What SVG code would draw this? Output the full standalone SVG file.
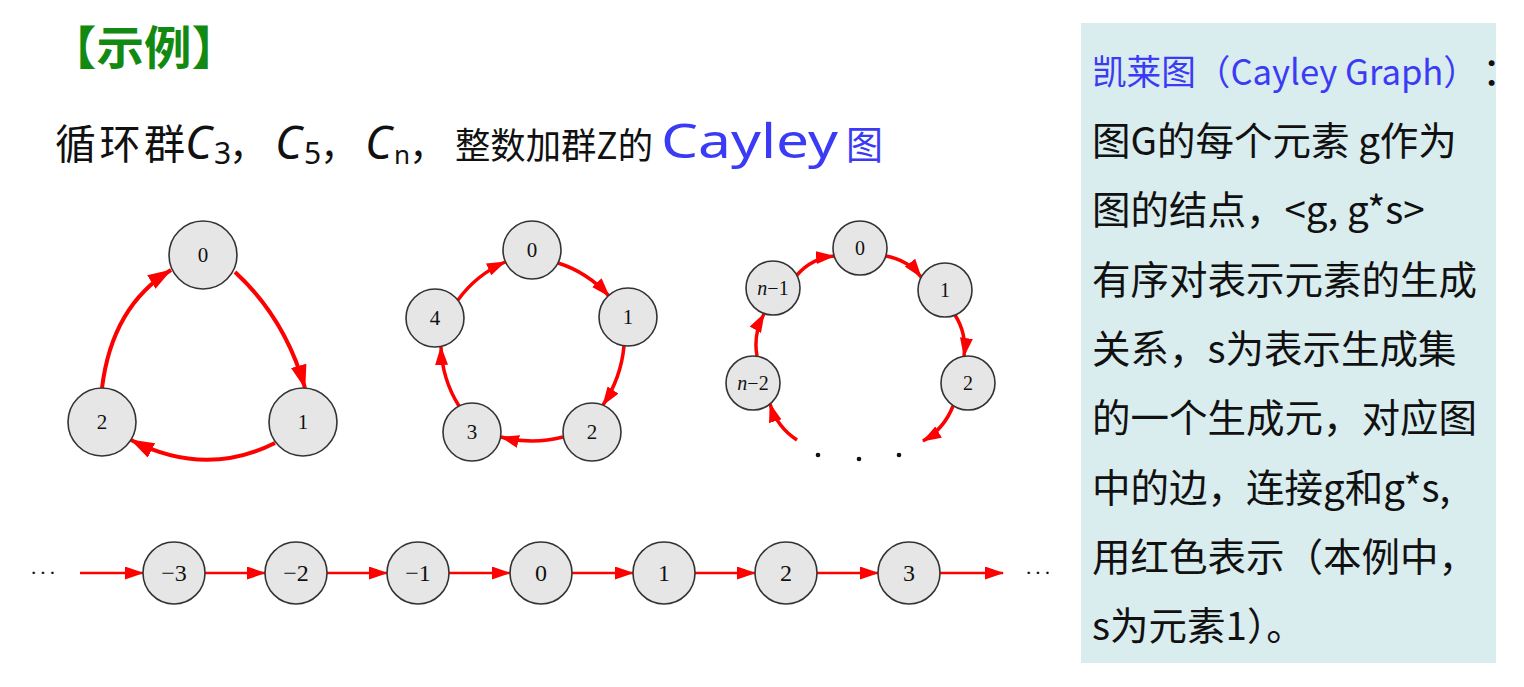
<svg xmlns="http://www.w3.org/2000/svg" width="1524" height="687" viewBox="0 0 1524 687">
<style>
.cjk{font-family:"Noto Sans CJK SC","Noto Sans",sans-serif}
.lat{font-family:"Noto Sans","DejaVu Sans",sans-serif}
.node circle{fill:#e6e6e6;stroke:#333;stroke-width:1.6}
.node text{font-family:"Liberation Serif","Times New Roman",serif;fill:#111;text-anchor:middle}
.e3{fill:none;stroke:#f00;stroke-width:4;marker-end:url(#a3)}
.e5{fill:none;stroke:#f00;stroke-width:3.5;marker-end:url(#a5)}
.ez{fill:none;stroke:#f00;stroke-width:2.6;marker-end:url(#az)}
.ptxt{font-family:"Noto Sans CJK SC","Noto Sans",sans-serif;font-size:38.5px;fill:#111}
.ptxt.blue{fill:#3b3bf5;font-size:35px}
</style>
<defs>
<marker id="a3" markerUnits="userSpaceOnUse" viewBox="0 0 24 16" markerWidth="24" markerHeight="16" refX="23" refY="8" orient="auto"><path d="M0,0 L24,8 L0,16 z" fill="#f00"/></marker>
<marker id="a5" markerUnits="userSpaceOnUse" viewBox="0 0 19 13" markerWidth="19" markerHeight="13" refX="18" refY="6.5" orient="auto"><path d="M0,0 L19,6.5 L0,13 z" fill="#f00"/></marker>
<marker id="az" markerUnits="userSpaceOnUse" viewBox="0 0 19 13" markerWidth="19" markerHeight="13" refX="18" refY="6.5" orient="auto"><path d="M0,0 L19,6.5 L0,13 z" fill="#f00"/></marker>
</defs>

<rect x="0" y="0" width="1524" height="687" fill="#fff"/>

<!-- Title -->
<g id="title">
<text class="cjk" x="49" y="64" font-size="46" font-weight="bold" fill="#128a12" textLength="190" lengthAdjust="spacingAndGlyphs">【示例】</text>
</g>

<!-- Subtitle line -->
<g id="subtitle" fill="#111">
<text class="cjk" x="55" y="159" font-size="41" textLength="130" lengthAdjust="spacing">循环群</text>
<text class="lat" x="185" y="159" font-size="46" font-style="italic">C</text>
<text class="lat" x="214" y="164" font-size="30">3</text>
<text class="cjk" x="229" y="159" font-size="38">，</text>
<text class="lat" x="275" y="159" font-size="46" font-style="italic">C</text>
<text class="lat" x="304" y="164" font-size="30">5</text>
<text class="cjk" x="320" y="159" font-size="38">，</text>
<text class="lat" x="365" y="159" font-size="46" font-style="italic">C</text>
<text class="lat" x="394" y="164" font-size="26">n</text>
<text class="cjk" x="409" y="159" font-size="38">，</text>
<text class="cjk" x="455" y="159" font-size="36.5" textLength="198" lengthAdjust="spacingAndGlyphs">整数加群Z的</text>
<text class="lat" x="661" y="158" font-size="47" fill="#3b3bf5" textLength="177" lengthAdjust="spacingAndGlyphs">Cayley</text>
<text class="cjk" x="846" y="159" font-size="39" fill="#3b3bf5" textLength="37" lengthAdjust="spacingAndGlyphs">图</text>
</g>

<!-- Connectors -->
<g id="connectors">
<!-- C3 -->
<path class="e3" d="M235,272 Q285,318 305,388"/>
<path class="e3" d="M275,443 Q205,478 131,440"/>
<path class="e3" d="M102,388 Q112,306 171,270"/>
<!-- C5 -->
<path class="e5" d="M558,263 Q587,272 609,296"/>
<path class="e5" d="M624,346 Q621,378 603,405"/>
<path class="e5" d="M563,437 Q532,445 501,437"/>
<path class="e5" d="M459,406 Q442,379 441,347"/>
<path class="e5" d="M458,300 Q476,275 505,262"/>
<!-- Cn -->
<path class="e5" d="M797,275 Q812,258 834,256"/>
<path class="e5" d="M886,256 Q908,260 921,277"/>
<path class="e5" d="M955,315 Q967,334 964,356"/>
<path class="e5" d="M953,406 Q944,429 923,441"/>
<path class="e5" d="M797,440 Q777,427 770,404"/>
<path class="e5" d="M757,356 Q753,334 764,314"/>
<!-- Z -->
<path class="ez" d="M80,573 L143,573"/>
<path class="ez" d="M205,573 L265,573"/>
<path class="ez" d="M327,573 L387,573"/>
<path class="ez" d="M449,573 L510,573"/>
<path class="ez" d="M572,573 L633,573"/>
<path class="ez" d="M695,573 L755,573"/>
<path class="ez" d="M817,573 L878,573"/>
<path class="ez" d="M940,573 L1003,573"/>
</g>

<!-- C3 nodes -->
<g id="c3-0" class="node"><circle cx="203" cy="255" r="34"/><text x="203" y="262" font-size="21">0</text></g>
<g id="c3-1" class="node"><circle cx="303" cy="422" r="34"/><text x="303" y="429" font-size="21">1</text></g>
<g id="c3-2" class="node"><circle cx="102" cy="422" r="34"/><text x="102" y="429" font-size="21">2</text></g>

<!-- C5 nodes -->
<g id="c5-0" class="node"><circle cx="532" cy="250" r="29"/><text x="532" y="257" font-size="21">0</text></g>
<g id="c5-1" class="node"><circle cx="628" cy="317" r="29"/><text x="628" y="324" font-size="21">1</text></g>
<g id="c5-2" class="node"><circle cx="592" cy="432" r="29"/><text x="592" y="439" font-size="21">2</text></g>
<g id="c5-3" class="node"><circle cx="472" cy="432" r="29"/><text x="472" y="439" font-size="21">3</text></g>
<g id="c5-4" class="node"><circle cx="435" cy="318" r="29"/><text x="435" y="325" font-size="21">4</text></g>

<!-- Cn nodes -->
<g id="cn-0" class="node"><circle cx="860" cy="248" r="27"/><text x="860" y="255" font-size="20">0</text></g>
<g id="cn-1" class="node"><circle cx="945" cy="290" r="27"/><text x="945" y="297" font-size="20">1</text></g>
<g id="cn-2" class="node"><circle cx="968" cy="383" r="27"/><text x="968" y="390" font-size="20">2</text></g>
<g id="cn-n1" class="node"><circle cx="773" cy="288" r="27"/><text x="773" y="295" font-size="20"><tspan font-style="italic">n</tspan>−1</text></g>
<g id="cn-n2" class="node"><circle cx="753" cy="383" r="27"/><text x="753" y="390" font-size="20"><tspan font-style="italic">n</tspan>−2</text></g>
<g id="cn-dots" fill="#111">
<circle cx="818" cy="455" r="2.3"/><circle cx="859" cy="459" r="2.3"/><circle cx="899" cy="455" r="2.3"/>
</g>

<!-- Z nodes -->
<g id="z-m3" class="node"><circle cx="174" cy="573" r="31"/><text x="174" y="581" font-size="24">−3</text></g>
<g id="z-m2" class="node"><circle cx="296" cy="573" r="31"/><text x="296" y="581" font-size="24">−2</text></g>
<g id="z-m1" class="node"><circle cx="418" cy="573" r="31"/><text x="418" y="581" font-size="24">−1</text></g>
<g id="z-0" class="node"><circle cx="541" cy="573" r="31"/><text x="541" y="581" font-size="24">0</text></g>
<g id="z-1" class="node"><circle cx="664" cy="573" r="31"/><text x="664" y="581" font-size="24">1</text></g>
<g id="z-2" class="node"><circle cx="786" cy="573" r="31"/><text x="786" y="581" font-size="24">2</text></g>
<g id="z-3" class="node"><circle cx="909" cy="573" r="31"/><text x="909" y="581" font-size="24">3</text></g>
<g id="z-dots">
<text x="30" y="580" font-family="Liberation Serif, serif" font-size="22" fill="#111" letter-spacing="2">···</text>
<text x="1025" y="580" font-family="Liberation Serif, serif" font-size="22" fill="#111" letter-spacing="2">···</text>
</g>

<!-- Right panel -->
<g id="panel">
<rect x="1081" y="23" width="415" height="640" fill="#d9ecee"/>
<text class="ptxt blue" x="1092" y="85" textLength="386" lengthAdjust="spacingAndGlyphs">凯莱图（Cayley Graph）</text>
<text class="ptxt" x="1482" y="85">：</text>
<text class="ptxt" x="1092" y="155">图G的每个元素 g作为</text>
<text class="ptxt" x="1092" y="224">图的结点，&lt;g, g*s&gt;</text>
<text class="ptxt" x="1092" y="294">有序对表示元素的生成</text>
<text class="ptxt" x="1092" y="363">关系，s为表示生成集</text>
<text class="ptxt" x="1092" y="432">的一个生成元，对应图</text>
<text class="ptxt" x="1092" y="502">中的边，连接g和g*s,</text>
<text class="ptxt" x="1092" y="571">用红色表示（本例中，</text>
<text class="ptxt" x="1092" y="640">s为元素1）。</text>
</g>
</svg>
